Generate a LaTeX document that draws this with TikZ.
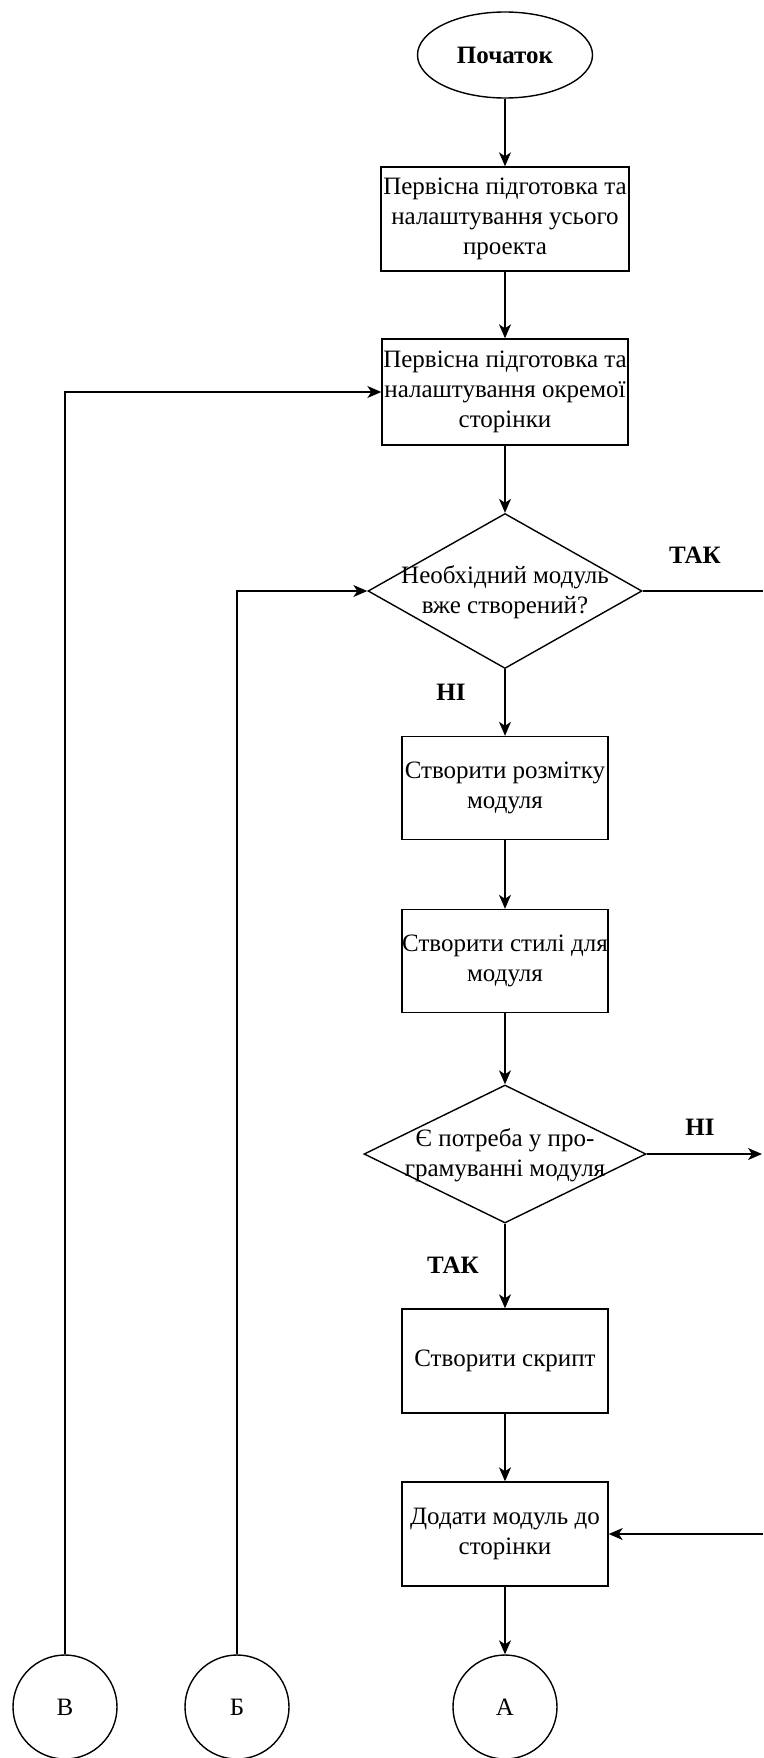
\documentclass[tikz,border=0pt]{standalone}
\usepackage{fontspec}
\setmainfont{Liberation Serif}
\usetikzlibrary{shapes.geometric,arrows.meta}
\begin{document}
\begin{tikzpicture}[x=1pt,y=-1pt,
  every node/.style={font=\fontsize{25}{30}\selectfont},
  box/.style={draw,rectangle,line width=1.4pt,inner sep=0pt,align=center,minimum width=#1},
  box/.default=206pt,
  dia/.style={draw,diamond,line width=1.4pt,inner sep=0pt},
  conn/.style={draw,circle,line width=1.4pt,minimum size=104pt,inner sep=0pt},
  lab/.style={font=\fontsize{25}{30}\selectfont\bfseries},
  arr/.style={line width=1.4pt,-{Stealth[length=14pt,width=12pt,inset=4pt]}},
  ln/.style={line width=1.4pt}]
\useasboundingbox (0,0) rectangle (763,1758);
\node[draw,ellipse,line width=1.4pt,minimum width=175pt,minimum height=86pt,inner sep=0pt,font=\fontsize{25}{30}\selectfont\bfseries] (start) at (505,55) {Початок};
\node[box=248pt,minimum height=104pt] (b1) at (505,219) {Первісна підготовка та\\налаштування усього\\проекта};
\node[box=246pt,minimum height=106pt] (b2) at (505,392) {Первісна підготовка та\\налаштування окремої\\сторінки};
\node[dia,minimum width=274pt,minimum height=155pt] (d1) at (505,591) {};
\node[align=center] (d1t) at (505,592) {Необхідний модуль\\вже створений?};
\node[box,minimum height=103pt] (b3) at (505,788) {Створити розмітку\\модуля};
\node[box,minimum height=103pt] (b4) at (505,961) {Створити стилі для\\модуля};
\node[dia,minimum width=282pt,minimum height=138pt] (d2) at (505,1154) {};
\node[align=center] (d2t) at (505,1155) {Є потреба у про-\\грамуванні модуля};
\node[box,minimum height=104pt] (b5) at (505,1361) {Створити скрипт};
\node[box,minimum height=104pt] (b6) at (505,1534) {Додати модуль до\\сторінки};
\node[conn] (cB) at (65,1707) {В};
\node[conn] (cBe) at (237,1707) {Б};
\node[conn] (cA) at (505,1707) {А};
\coordinate (r1) at (763,591);
\coordinate (r2) at (762,1154);
\coordinate (r3) at (763,1534);
\node[lab] (t1) at (695,555) {ТАК};
\node[lab] (n1) at (451,692) {НІ};
\node[lab] (n2) at (700,1127) {НІ};
\node[lab] (t2) at (453,1265) {ТАК};
\draw[arr] (start) -- (b1);
\draw[arr] (b1) -- (b2);
\draw[arr] (b2) -- (d1.north);
\draw[arr] (d1.south) -- (b3);
\draw[arr] (b3) -- (b4);
\draw[arr] (b4) -- (d2.north);
\draw[arr] (d2.south) -- (b5);
\draw[arr] (b5) -- (b6);
\draw[arr] (b6) -- (cA);
\draw[arr] (cB.north) |- (b2.west);
\draw[arr] (cBe.north) |- (d1.west);
\draw[ln] (d1.east) -- (r1);
\draw[arr] (d2.east) -- (r2);
\draw[arr] (r3) -- (b6.east);
\end{tikzpicture}
\end{document}
